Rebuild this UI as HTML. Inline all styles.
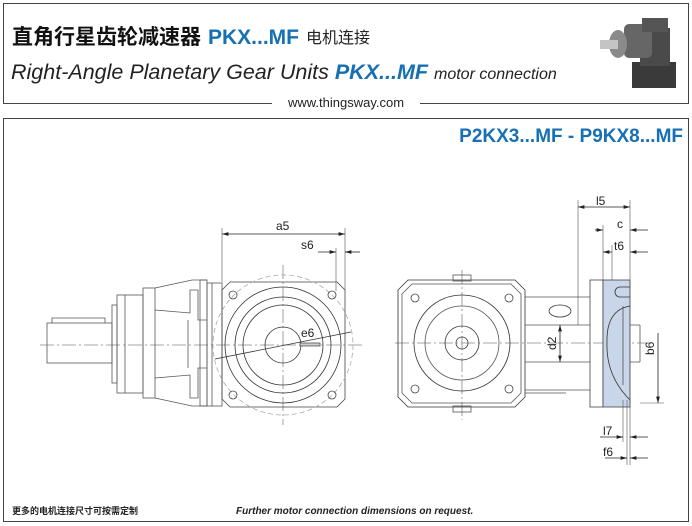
<!DOCTYPE html>
<html><head><meta charset="utf-8"><style>
html,body{margin:0;padding:0;background:#fff;}
body{width:692px;height:526px;position:relative;overflow:hidden;font-family:"Liberation Sans","Noto Sans CJK SC",sans-serif;}
</style></head><body>
<svg width="692" height="526" viewBox="0 0 692 526" xmlns="http://www.w3.org/2000/svg" style="position:absolute;left:0;top:0">
<defs>
<marker id="ar" viewBox="0 0 10 6" refX="10" refY="3" markerWidth="8" markerHeight="5" orient="auto-start-reverse"><path d="M0,0 L10,3 L0,6 z" fill="#222"/></marker>
</defs>
<!-- header box -->
<rect x="3.5" y="3.5" width="685" height="100" fill="none" stroke="#444" stroke-width="1"/>
<rect x="272" y="96" width="148" height="14" fill="#fff"/>
<text x="346" y="107" font-size="13" text-anchor="middle" fill="#222" font-family="Liberation Sans, sans-serif">www.thingsway.com</text>
<text x="12" y="44" font-size="21" font-weight="bold" fill="#111" font-family="Noto Sans CJK SC, sans-serif" letter-spacing="0">直角行星齿轮减速器</text>
<text x="208" y="44" font-size="21" font-weight="bold" fill="#1670b3" font-family="Liberation Sans, sans-serif">PKX...MF</text>
<text x="306" y="43" font-size="16" fill="#222" font-family="Noto Sans CJK SC, sans-serif">电机连接</text>
<text x="11" y="79" font-size="21.5" font-style="italic" fill="#222" font-family="Liberation Sans, sans-serif">Right-Angle Planetary Gear Units <tspan font-weight="bold" fill="#1670b3">PKX...MF</tspan> <tspan font-size="16">motor connection</tspan></text>
<!-- product image -->
<g>
<rect x="632" y="62" width="44" height="26" fill="#3a3a3a"/>
<rect x="640" y="28" width="30" height="38" fill="#4a4a4a"/>
<rect x="624" y="24" width="28" height="34" rx="5" fill="#666"/>
<ellipse cx="618" cy="44" rx="9" ry="14" fill="#8a8a8a"/>
<rect x="600" y="40" width="18" height="9" fill="#c4c4c4"/>
<rect x="642" y="18" width="26" height="14" fill="#555"/>
</g>
<!-- main box -->
<rect x="3.5" y="118.5" width="685" height="403" fill="none" stroke="#444" stroke-width="1"/>
<text x="683" y="142" font-size="19" font-weight="bold" fill="#1670b3" text-anchor="end" font-family="Liberation Sans, sans-serif">P2KX3...MF - P9KX8...MF</text>
<text x="12" y="514" font-size="9" font-weight="bold" fill="#222" font-family="Noto Sans CJK SC, sans-serif">更多的电机连接尺寸可按需定制</text>
<text x="236" y="514" font-size="10" font-weight="bold" font-style="italic" fill="#222" font-family="Liberation Sans, sans-serif">Further motor connection dimensions on request.</text>

<g fill="none" stroke="#555" stroke-width="0.8">
<!-- LEFT VIEW -->
<line x1="40" y1="345" x2="365" y2="345" stroke-dasharray="14,3,2,3" stroke="#888"/>
<line x1="283" y1="265" x2="283" y2="425" stroke-dasharray="14,3,2,3" stroke="#888"/>
<rect x="47" y="323" width="65" height="40"/>
<path d="M52,323 v-5 h53 v5"/>
<rect x="112" y="305" width="5" height="78"/>
<rect x="117" y="295" width="26" height="98"/>
<line x1="125" y1="295" x2="125" y2="393"/>
<rect x="143" y="288" width="12" height="110"/>
<path d="M155,288 L192,280 L207,280 M155,398 L192,406 L207,406"/>
<path d="M155,310 L190,313 L190,290 L198,290 L198,320 L207,320"/>
<path d="M155,378 L190,375 L190,398 L198,398 L198,368 L207,368"/>
<line x1="188" y1="320" x2="188" y2="368"/>
<rect x="200" y="280" width="7" height="126"/>
<rect x="207" y="283" width="15" height="123"/>
<line x1="212" y1="283" x2="212" y2="406"/>
<path d="M230,282 L337,282 L345,290 L345,399 L337,407 L230,407 L222,399 L222,290 Z" stroke="#444"/>
<circle cx="283" cy="345" r="70" stroke="#aaa" stroke-dasharray="5,3"/>
<circle cx="283" cy="345" r="58" stroke="#333"/>
<circle cx="283" cy="345" r="48" stroke="#333"/>
<circle cx="283" cy="345" r="40" stroke="#333"/>
<circle cx="283" cy="345" r="18" stroke="#333"/>
<g stroke="#444"><circle cx="233" cy="295" r="4"/><circle cx="332" cy="295" r="4"/><circle cx="233" cy="395" r="4"/><circle cx="332" cy="395" r="4"/></g>
<rect x="300" y="343" width="20" height="3" fill="#ccc"/>
<line x1="215" y1="359" x2="351" y2="332" stroke="#333"/>
<line x1="222" y1="228" x2="222" y2="282" stroke-width="0.6"/>
<line x1="345" y1="228" x2="345" y2="290" stroke-width="0.6"/>
<line x1="336" y1="248" x2="336" y2="291" stroke-width="0.6"/>
<line x1="222" y1="234" x2="345" y2="234" stroke="#222" marker-start="url(#ar)" marker-end="url(#ar)"/>
<line x1="318" y1="252" x2="336" y2="252" stroke="#222" marker-end="url(#ar)"/>
<line x1="360" y1="252" x2="345" y2="252" stroke="#222" marker-end="url(#ar)"/>

<!-- RIGHT VIEW -->
<line x1="395" y1="343" x2="650" y2="343" stroke-dasharray="14,3,2,3" stroke="#888"/>
<line x1="462" y1="270" x2="462" y2="420" stroke-dasharray="14,3,2,3" stroke="#888"/>
<path d="M408,280 L515,280 L525,290 L525,397 L515,407 L408,407 L398,397 L398,290 Z" stroke="#333"/>
<path d="M412,284 L511,284 L521,294 L521,393 L511,403 L412,403 L402,393 L402,294 Z"/>
<rect x="453" y="275" width="18" height="6"/><rect x="453" y="406" width="18" height="6"/>
<circle cx="462" cy="343" r="48" stroke="#333"/>
<circle cx="462" cy="343" r="37"/>
<circle cx="462" cy="343" r="17" stroke="#333"/>
<circle cx="462" cy="343" r="6" stroke="#333"/>
<g stroke="#444"><circle cx="415" cy="298" r="4"/><circle cx="509" cy="298" r="4"/><circle cx="415" cy="389" r="4"/><circle cx="509" cy="389" r="4"/></g>
<line x1="525" y1="297" x2="590" y2="297"/>
<line x1="525" y1="325" x2="590" y2="325"/>
<line x1="525" y1="362" x2="590" y2="362"/>
<line x1="525" y1="390" x2="590" y2="390"/>
<line x1="525" y1="393" x2="566" y2="393"/>
<ellipse cx="560" cy="311" rx="11" ry="6" stroke="#333"/>
<rect x="590" y="280" width="13" height="127" stroke="#444"/>
<rect x="603" y="280" width="27" height="127" fill="#c9d5e8" stroke="#444"/>
<path d="M630,306 Q606,310 607,343 Q606,376 630,400" stroke="#333"/>
<path d="M630,287 h-10 a5,5 0 0 0 0,10 h10" stroke="#333"/>
<line x1="623" y1="306" x2="623" y2="385"/>
<path d="M630,325 h10 M630,362 h10 M640,325 v37"/>
<line x1="578" y1="200" x2="578" y2="325" stroke-width="0.6"/>
<line x1="630" y1="200" x2="630" y2="465" stroke-width="0.6"/>
<line x1="603" y1="225" x2="603" y2="280" stroke-width="0.6"/>
<line x1="612" y1="245" x2="612" y2="280" stroke-width="0.6"/>
<line x1="627" y1="400" x2="627" y2="465" stroke-width="0.6"/>
<line x1="623" y1="400" x2="623" y2="442" stroke-width="0.6"/>
<line x1="578" y1="207" x2="630" y2="207" stroke="#222" marker-start="url(#ar)" marker-end="url(#ar)"/>
<line x1="595" y1="230" x2="603" y2="230" stroke="#222" marker-end="url(#ar)"/>
<line x1="648" y1="230" x2="630" y2="230" stroke="#222" marker-end="url(#ar)"/>
<line x1="603" y1="252" x2="612" y2="252" stroke="#222" marker-start="url(#ar)"/>
<line x1="648" y1="252" x2="630" y2="252" stroke="#222" marker-end="url(#ar)"/>
<line x1="600" y1="437" x2="623" y2="437" stroke="#222" marker-end="url(#ar)"/>
<line x1="648" y1="437" x2="630" y2="437" stroke="#222" marker-end="url(#ar)"/>
<line x1="605" y1="458" x2="627" y2="458" stroke="#222" marker-end="url(#ar)"/>
<line x1="648" y1="458" x2="630" y2="458" stroke="#222" marker-end="url(#ar)"/>
<line x1="560" y1="325" x2="560" y2="362" stroke="#222" marker-start="url(#ar)" marker-end="url(#ar)"/>
<line x1="658" y1="333" x2="658" y2="403" stroke="#222" marker-end="url(#ar)"/>
<line x1="640" y1="403" x2="664" y2="403" stroke-width="0.6"/>
</g>
<g font-family="Liberation Sans, sans-serif" font-size="12" fill="#222">
<text x="276" y="230">a5</text>
<text x="301" y="249">s6</text>
<text x="301" y="337">e6</text>
<text x="596" y="205">l5</text>
<text x="617" y="228">c</text>
<text x="614" y="250">t6</text>
<text x="603" y="435">l7</text>
<text x="603" y="456">f6</text>
<text transform="translate(556,350) rotate(-90)">d2</text>
<text transform="translate(654,355) rotate(-90)">b6</text>
</g>
</svg>
</body></html>
